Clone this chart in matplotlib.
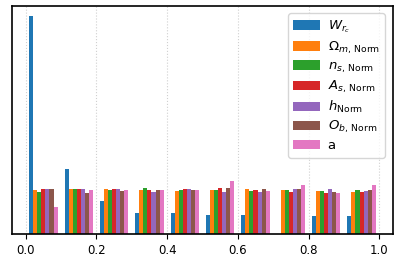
import numpy as np
import matplotlib
matplotlib.use("Agg")
import matplotlib.pyplot as plt

# histogram counts per bin (10 bins over [0, 1])
bin_edges = np.linspace(0.0, 1.0, 11)
labels = [r'$W_{r_c}$', r'$\Omega_{m,\,\mathrm{Norm}}$', r'$n_{s,\,\mathrm{Norm}}$',
          r'$A_{s,\,\mathrm{Norm}}$', r'$h_{\mathrm{Norm}}$', r'$O_{b,\,\mathrm{Norm}}$', 'a']
w_rc = [48.2, 14.3, 7.4, 4.6, 4.6, 4.3, 4.3, 0.0, 4.0, 4.0]
omega_m = [9.8, 10.0, 10.0, 9.7, 9.6, 9.8, 10.0, 9.8, 9.5, 9.4]
n_s = [9.4, 10.0, 9.7, 10.2, 9.7, 9.8, 9.5, 9.8, 9.6, 9.8]
a_s = [10.0, 10.0, 10.0, 9.8, 10.0, 10.1, 9.8, 9.4, 9.0, 9.2]
h = [10.0, 10.0, 10.0, 9.3, 10.0, 9.3, 9.3, 10.0, 10.0, 9.5]
o_b = [10.0, 9.0, 9.6, 9.8, 9.8, 10.1, 10.0, 10.0, 9.3, 9.7]
a = [5.9, 9.8, 9.8, 9.8, 9.8, 11.8, 9.6, 10.9, 9.1, 10.9]

series = [w_rc, omega_m, n_s, a_s, h, o_b, a]
centers = 0.5 * (bin_edges[:-1] + bin_edges[1:])

fig = plt.figure(figsize=(3.99, 2.62), dpi=100)
ax = fig.add_axes([0.030, 0.107, 0.955, 0.872])

ax.hist([centers] * len(series), bins=bin_edges, weights=series, label=labels)
ax.grid(axis='x', color='#d0d0d0', linestyle=':', linewidth=0.8)
ax.set_axisbelow(True)
ax.set_yticks([])
ax.set_xticks([0.0, 0.2, 0.4, 0.6, 0.8, 1.0])
ax.tick_params(axis='x', labelsize=8.5)
for sp in ax.spines.values():
    sp.set_linewidth(1.2)
ax.legend(loc='upper right', fontsize=9.5, labelspacing=0.3,
          handletextpad=0.6, borderaxespad=0.6)

fig.savefig('out.png', dpi=100)
